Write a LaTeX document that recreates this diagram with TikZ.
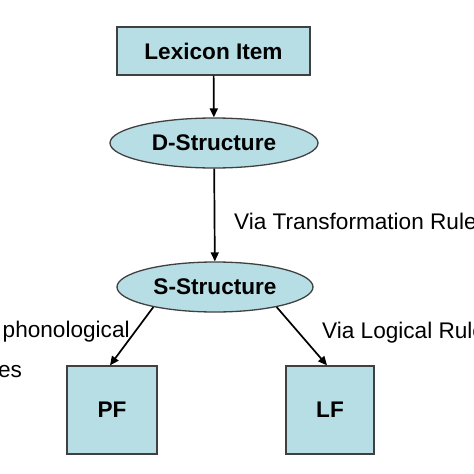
\documentclass[tikz,border=0pt]{standalone}
\usepackage{fontspec}
\setmainfont{Liberation Sans}
\usetikzlibrary{shapes,arrows.meta}
\definecolor{boxfill}{RGB}{183,222,228}
\definecolor{boxline}{RGB}{64,64,64}
\tikzset{
	box/.style={rectangle,draw=boxline,fill=boxfill,line width=1.3pt,font=\fontsize{22.6}{27}\selectfont\bfseries},
	oval/.style={ellipse,draw=boxline,fill=boxfill,line width=1.3pt,inner sep=0pt,font=\fontsize{22.6}{27}\selectfont\bfseries},
	diredge/.style={-{Triangle[length=9pt,width=8pt]},color=black,line width=1.7pt},
	rulelabel/.style={font=\fontsize{22.6}{27}\selectfont,inner sep=0pt}
}
\begin{document}
\begin{tikzpicture}[x=1pt,y=-1pt]
	\useasboundingbox (0,0) rectangle (474,474);
	\clip (0,0) rectangle (474,474);
	
	%%lexicon and structures
	\node[box,minimum width=193pt,minimum height=48pt] (lex) at (213.5,51) {Lexicon Item};
	\node[oval,minimum width=208pt,minimum height=50pt] (dstr) at (214,143) {D-Structure};
	\node[oval,minimum width=196pt,minimum height=50pt] (sstr) at (215,287) {S-Structure};
	
	%%interfaces
	\node[box,minimum width=90pt,minimum height=88pt] (pf) at (112,410) {PF};
	\node[box,minimum width=88pt,minimum height=88pt] (lf) at (330,410) {LF};
	
	%%rule labels
	\node[rulelabel,anchor=base west] (trans) at (234,229) {Via Transformation Rules};
	\node[rulelabel,anchor=base west,align=left] (phon) at (-36,377) {Via phonological\\[13pt]Rules};
	\node[rulelabel,anchor=base west] (logic) at (322,338) {Via Logical Rules};
	
	%%edges
	\draw[diredge] (lex) -- (dstr);
	\draw[diredge] (dstr) -- (sstr);
	\draw[diredge] (sstr.198) -- ([xshift=-2pt]pf.north);
	\draw[diredge] (sstr.342) -- ([xshift=-3pt]lf.north);
	
\end{tikzpicture}
\end{document}
